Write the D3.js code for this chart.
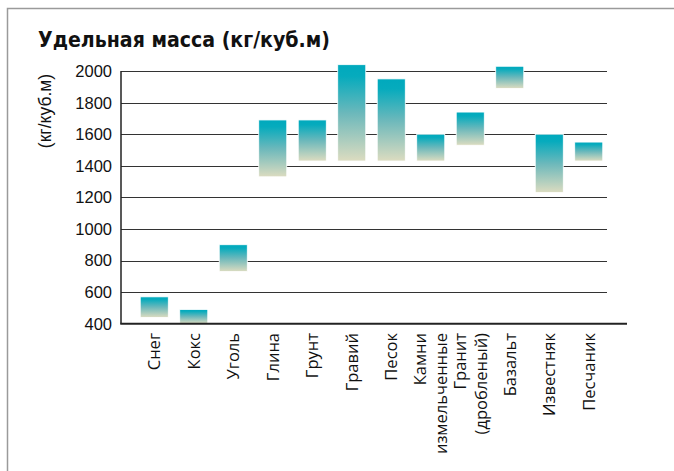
<!DOCTYPE html>
<html>
<head>
<meta charset="utf-8">
<script src="https://cdn.jsdelivr.net/npm/d3@7"></script>
<style>
  body { margin: 0; background: #fff; }
  svg { display: block; }
</style>
</head>
<body>
<div class="chart"></div>
<script>
// data
const materials = ['Снег', 'Кокс', 'Уголь', 'Глина', 'Грунт', 'Гравий', 'Песок',
  'Камни\nизмельченные', 'Гранит\n(дробленый)', 'Базальт', 'Известняк', 'Песчаник'];
const minMass = [440, 400, 730, 1330, 1430, 1430, 1430, 1430, 1530, 1890, 1230, 1430];
const maxMass = [570, 490, 900, 1690, 1690, 2040, 1950, 1600, 1740, 2030, 1600, 1550];
const yTicks = [400, 600, 800, 1000, 1200, 1400, 1600, 1800, 2000];

const width = 674, height = 471;

const svg = d3.select('.chart')
  .append('svg')
  .attr('width', width)
  .attr('height', height);

// frame
svg.append('path')
  .attr('d', `M7.5,${height} V8.5 H${width}`)
  .attr('fill', 'none')
  .attr('stroke', '#9a9a9a')
  .attr('stroke-width', 1.5);

// title
svg.append('text')
  .text('Удельная масса (кг/куб.м)')
  .attr('x', 38)
  .attr('y', 47)
  .attr('font-family', '"Liberation Sans Narrow", "DejaVu Sans Condensed", sans-serif')
  .attr('font-weight', 'bold')
  .attr('font-size', 22)
  .attr('textLength', 292)
  .attr('lengthAdjust', 'spacingAndGlyphs')
  .attr('fill', '#111');

const x = d3.scaleBand()
  .domain(materials)
  .range([134.5, 608.5])
  .paddingInner(0.29)
  .paddingOuter(0.145);

const y = d3.scaleLinear()
  .domain([400, 2000])
  .range([323.7, 71]);

const x0 = 121, xEnd = 607;

// gradient for bars
const grad = svg.append('defs').append('linearGradient')
  .attr('id', 'barGrad')
  .attr('x1', 0).attr('y1', 0).attr('x2', 0).attr('y2', 1);
grad.append('stop').attr('offset', '0%').attr('stop-color', '#00a9bd');
grad.append('stop').attr('offset', '12%').attr('stop-color', '#06abbd');
grad.append('stop').attr('offset', '50%').attr('stop-color', '#6bb8bb');
grad.append('stop').attr('offset', '100%').attr('stop-color', '#dcdcc0');

// grid lines
svg.append('g')
  .selectAll('line')
  .data(yTicks.filter(d => d > 400))
  .join('line')
  .attr('x1', x0)
  .attr('x2', xEnd)
  .attr('y1', d => Math.round(y(d)) + 0.5)
  .attr('y2', d => Math.round(y(d)) + 0.5)
  .attr('stroke', '#333')
  .attr('stroke-width', 1.2);

// y tick labels
svg.append('g')
  .selectAll('text')
  .data(yTicks)
  .join('text')
  .text(d => d)
  .attr('x', 112)
  .attr('y', d => y(d))
  .attr('dy', '0.36em')
  .attr('text-anchor', 'end')
  .attr('font-family', '"Liberation Sans", Arial, sans-serif')
  .attr('font-size', 16.5)
  .attr('fill', '#111');

// y axis title
svg.append('text')
  .text('(кг/куб.м)')
  .attr('transform', 'translate(51,111) rotate(-90)')
  .attr('text-anchor', 'middle')
  .attr('font-family', '"Liberation Sans", Arial, sans-serif')
  .attr('font-size', 17.5)
  .attr('fill', '#111');

// bars
svg.append('g')
  .selectAll('rect')
  .data(materials)
  .join('rect')
  .attr('x', d => x(d))
  .attr('width', x.bandwidth())
  .attr('y', (d, i) => y(maxMass[i]))
  .attr('height', (d, i) => y(minMass[i]) - y(maxMass[i]))
  .attr('fill', 'url(#barGrad)')
  .attr('stroke', '#fff')
  .attr('stroke-width', 0.8);

// axes lines
svg.append('line')
  .attr('x1', x0).attr('x2', x0)
  .attr('y1', y(2000)).attr('y2', y(400))
  .attr('stroke', '#222')
  .attr('stroke-width', 1.5);

svg.append('line')
  .attr('x1', x0 - 0.75).attr('x2', 627)
  .attr('y1', y(400)).attr('y2', y(400))
  .attr('stroke', '#222')
  .attr('stroke-width', 2);

// category labels, rotated
const labels = svg.append('g')
  .selectAll('text')
  .data(materials)
  .join('text')
  .attr('font-family', '"Open Sans", "Noto Sans", sans-serif')
  .attr('font-size', 16.5)
  .attr('fill', '#111')
  .attr('text-anchor', 'end')
  .attr('transform', d => {
    const lines = d.split('\n').length;
    const cx = x(d) + x.bandwidth() / 2 + 6 - (lines - 1) * 10.5;
    return `translate(${cx},333) rotate(-90)`;
  });

labels.selectAll('tspan')
  .data(d => d.split('\n'))
  .join('tspan')
  .attr('x', 0)
  .attr('dy', (d, i) => i === 0 ? 0 : 21)
  .text(d => d);
</script>
</body>
</html>
